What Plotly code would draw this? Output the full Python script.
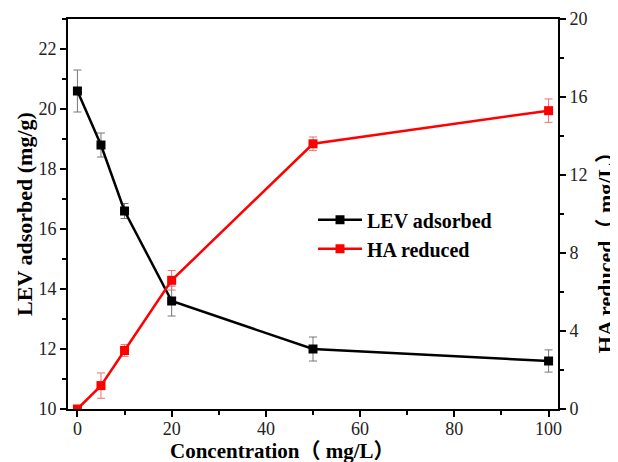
import plotly.graph_objects as go

conc = [0, 5, 10, 20, 50, 100]
lev = [20.6, 18.8, 16.6, 13.6, 12.0, 11.6]
lev_err = [0.7, 0.4, 0.25, 0.5, 0.4, 0.37]
ha = [0.0, 1.2, 3.0, 6.6, 13.6, 15.3]
ha_err = [0.0, 0.65, 0.3, 0.5, 0.35, 0.6]

x_title = "Concentration（ mg/L）"
y1_title = "LEV adsorbed (mg/g)"
y2_title = "HA reduced（ mg/L）"

font_fam = "Liberation Serif, Times New Roman, Noto Sans CJK SC, serif"

fig = go.Figure()
fig.add_trace(go.Scatter(
    x=conc, y=lev, name="<b>LEV adsorbed</b>", mode="lines+markers",
    line=dict(color="black", width=2.5),
    marker=dict(symbol="square", size=9, color="black"),
    error_y=dict(type="data", array=lev_err, color="#777777", thickness=1, width=4),
    yaxis="y"))
fig.add_trace(go.Scatter(
    x=conc, y=ha, name="<b>HA reduced</b>", mode="lines+markers",
    line=dict(color="#ff0000", width=2.5),
    marker=dict(symbol="square", size=9, color="#ff0000"),
    error_y=dict(type="data", array=ha_err, color="#f07070", thickness=1, width=4),
    yaxis="y2"))

axis_common = dict(showline=True, linecolor="black", linewidth=2, ticks="outside",
                   tickwidth=2, ticklen=6, tickcolor="black", showgrid=False, zeroline=False,
                   automargin=False,
                   tickfont=dict(family=font_fam, size=18, color="#222"))

# page body has an 8px margin, so the figure is 610x454 and offset by 8px
fig.update_layout(
    width=610, height=454,
    margin=dict(l=60, r=60, t=11, b=53),
    paper_bgcolor="white", plot_bgcolor="white",
    font=dict(family=font_fam, color="black"),
    xaxis=dict(range=[-2, 102], tick0=0, dtick=20, mirror=True, ticklabelstandoff=-4,
               minor=dict(ticks="outside", dtick=10, ticklen=4, tickwidth=2, tickcolor="black"),
               **axis_common),
    yaxis=dict(range=[10, 23], tick0=10, dtick=2,
               minor=dict(ticks="outside", dtick=1, ticklen=4, tickwidth=2, tickcolor="black"),
               **axis_common),
    yaxis2=dict(range=[0, 20], tick0=0, dtick=4, overlaying="y", side="right",
                minor=dict(ticks="outside", dtick=2, ticklen=4, tickwidth=2, tickcolor="black"),
                **axis_common),
    legend=dict(x=0.5, y=0.535, xanchor="left", yanchor="top", bgcolor="rgba(0,0,0,0)",
                font=dict(family=font_fam, size=20), tracegroupgap=0, itemwidth=44),
    showlegend=True,
    annotations=[
        dict(text="<b>" + x_title + "</b>", xref="paper", yref="paper", x=0.437, y=-0.107,
             xanchor="center", yanchor="middle", showarrow=False, font=dict(family=font_fam, size=21)),
        dict(text="<b>" + y1_title + "</b>", xref="paper", yref="paper", x=-0.09, y=0.5,
             xanchor="center", yanchor="middle", textangle=-90, showarrow=False,
             font=dict(family=font_fam, size=22)),
        dict(text="<b>" + y2_title + "</b>", xref="paper", yref="paper", x=1.096, y=0.415,
             xanchor="center", yanchor="middle", textangle=-90, showarrow=False,
             font=dict(family=font_fam, size=22)),
    ],
)

fig.write_html("out.html")
